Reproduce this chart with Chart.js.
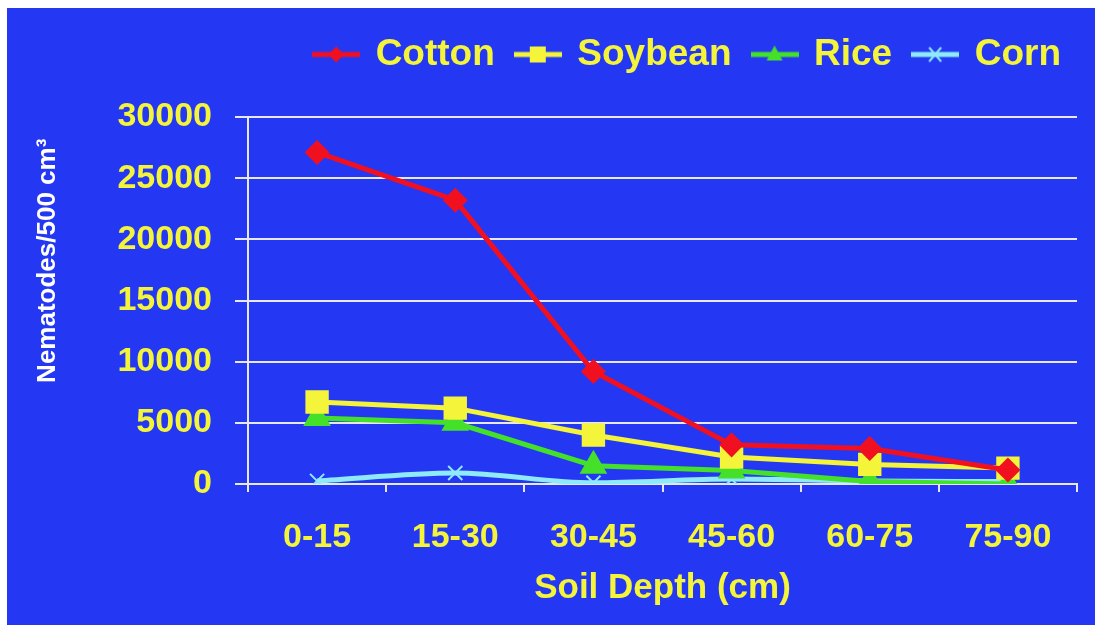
<!DOCTYPE html>
<html>
<head>
<meta charset="utf-8">
<script src="https://cdn.jsdelivr.net/npm/chart.js@4"></script>
<style>
  html, body { margin: 0; padding: 0; background: #fff; }
  #wrap { position: absolute; left: 7px; top: 8px; width: 1088px; height: 617px; background: #2438F4; }
</style>
</head>
<body>
<div id="wrap"><canvas id="c" width="1088" height="617"></canvas></div>
<script>
// 土壌深度ごとの線虫数
const depths  = ["0-15", "15-30", "30-45", "45-60", "60-75", "75-90"];
const cotton  = [27100, 23200, 9200, 3200, 2900, 1150];
const soybean = [6700, 6200, 4000, 2200, 1600, 1300];
const rice    = [5400, 5000, 1500, 1100, 200, 0];
const corn    = [250, 900, 100, 400, 250, 200];

const YELLOW = "#F4F43A";
const FONT = "'Liberation Sans', Arial, sans-serif";

// 凡例用: 線＋マーカーの小さい画像
function legendIcon(color, kind) {
  const cv = document.createElement("canvas");
  cv.width = 48; cv.height = 26;
  const g = cv.getContext("2d");
  g.strokeStyle = color; g.fillStyle = color; g.lineWidth = 5;
  g.beginPath(); g.moveTo(0, 13); g.lineTo(48, 13); g.stroke();
  g.beginPath();
  if (kind === "diamond") {
    g.moveTo(24, 5); g.lineTo(32, 13); g.lineTo(24, 21); g.lineTo(16, 13); g.closePath(); g.fill();
  } else if (kind === "square") {
    g.fillRect(16, 5, 16, 16);
  } else if (kind === "triangle") {
    g.moveTo(24, 4); g.lineTo(32, 19); g.lineTo(16, 19); g.closePath(); g.fill();
  } else {
    g.lineWidth = 2;
    g.moveTo(18, 6); g.lineTo(30, 20); g.moveTo(30, 6); g.lineTo(18, 20); g.stroke();
  }
  return cv;
}

const icons = [
  legendIcon("#F01020", "diamond"),
  legendIcon(YELLOW, "square"),
  legendIcon("#44E02A", "triangle"),
  legendIcon("#8EEAF8", "cross")
];

// 凡例とグラフの間に余白を足す
const legendGap = {
  id: "legendGap",
  beforeLayout(chart) {
    const lg = chart.legend;
    if (lg && !lg._gapPatched) {
      const fit = lg.fit.bind(lg);
      lg.fit = function () { fit(); this.height += 34; };
      lg._gapPatched = true;
    }
  }
};

const ctx = document.getElementById("c").getContext("2d");
new Chart(ctx, {
  type: "line",
  data: {
    labels: depths,
    datasets: [
      { label: "Cotton", data: cotton, borderColor: "#F01020", backgroundColor: "#F01020",
        borderWidth: 5, pointStyle: "rectRot", pointRadius: 9, tension: 0 },
      { label: "Soybean", data: soybean, borderColor: YELLOW, backgroundColor: YELLOW,
        borderWidth: 5, pointStyle: "rect", pointRadius: 13, tension: 0 },
      { label: "Rice", data: rice, borderColor: "#44E02A", backgroundColor: "#44E02A",
        borderWidth: 5, pointStyle: "triangle", pointRadius: 11, tension: 0 },
      { label: "Corn", data: corn, borderColor: "#8EEAF8", backgroundColor: "#8EEAF8",
        borderWidth: 5, pointStyle: "crossRot", pointRadius: 10, pointBorderWidth: 2,
        cubicInterpolationMode: "monotone" }
    ]
  },
  options: {
    responsive: false,
    animation: false,
    devicePixelRatio: 1,
    layout: { padding: { left: 23, right: 12, top: 6, bottom: 0 } },
    plugins: {
      tooltip: { enabled: false },
      legend: {
        position: "top",
        align: "end",
        labels: {
          color: YELLOW,
          font: { family: FONT, size: 37, weight: "bold" },
          usePointStyle: true,
          pointStyleWidth: 42,
          padding: 22,
          generateLabels(chart) {
            const items = Chart.defaults.plugins.legend.labels.generateLabels(chart);
            items.forEach((it, i) => { it.pointStyle = icons[i]; });
            return items;
          }
        }
      }
    },
    scales: {
      x: {
        offset: true,
        grid: { offset: true, drawOnChartArea: false, drawTicks: true, tickLength: 8, color: "#E8E8F0", lineWidth: 2 },
        border: { color: "#E8E8F0", width: 2 },
        ticks: { color: YELLOW, font: { family: FONT, size: 34, weight: "bold" }, padding: 25, maxRotation: 0 },
        title: { display: true, text: "Soil Depth (cm)", color: YELLOW,
                 font: { family: FONT, size: 35, weight: "bold" }, padding: { top: 0, bottom: 16 } },
        afterFit(scale) { scale.height = 141; }
      },
      y: {
        min: 0, max: 30000,
        ticks: { stepSize: 5000, color: YELLOW, font: { family: FONT, size: 34, weight: "bold" },
                 padding: 23, callback: v => String(v) },
        grid: { color: "#E8E8F0", lineWidth: 2, tickLength: 13 },
        border: { color: "#E8E8F0", width: 2 },
        title: { display: true, text: "Nematodes/500 cm³   ", align: "end", color: "#FFFFFF",
                 font: { family: FONT, size: 26, weight: "bold" }, padding: { top: 2, bottom: 0 } },
        afterFit(scale) { scale.width = 218; }
      }
    }
  },
  plugins: [legendGap]
});
</script>
</body>
</html>
